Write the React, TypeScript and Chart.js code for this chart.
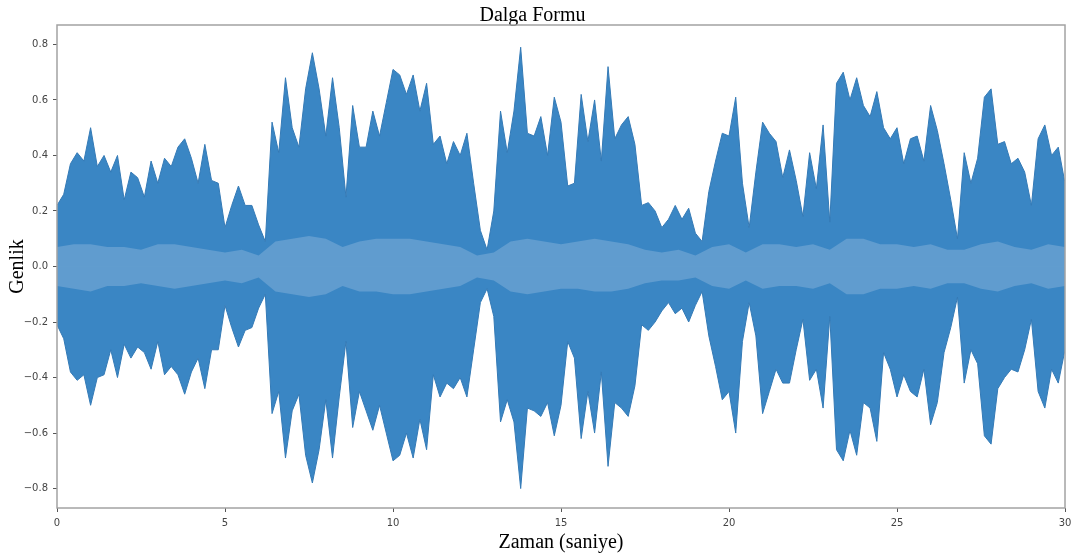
import React, { useEffect, useRef } from "react";
import { Chart, registerables } from "chart.js";

Chart.register(...registerables);

const TITLE = "Dalga Formu";
const X_LABEL = "Zaman (saniye)";
const Y_LABEL = "Genlik";

// sampling step (seconds) of the envelope readings
const TIME_STEP = 0.2;
const INNER_STEP = 0.5;

const xTicks = [0, 5, 10, 15, 20, 25, 30];
const yTicks = [-0.8, -0.6, -0.4, -0.2, 0, 0.2, 0.4, 0.6, 0.8];

// upper envelope of the waveform, t = 0 .. 30 s every 0.2 s
const upperEnvelope = [
  0.22, 0.26, 0.37, 0.41, 0.38, 0.5, 0.36, 0.4, 0.34, 0.4, 0.24, 0.34, 0.32, 0.25, 0.38, 0.3, 0.39, 0.36, 0.43, 0.46, 0.39, 0.3, 0.44, 0.31, 0.3, 0.14,
  0.22, 0.29, 0.22, 0.22, 0.15, 0.09, 0.52, 0.41, 0.68, 0.5, 0.43, 0.64, 0.77, 0.64, 0.47, 0.68, 0.5, 0.25, 0.58, 0.43, 0.43, 0.56, 0.47, 0.59, 0.71,
  0.69, 0.62, 0.69, 0.56, 0.66, 0.44, 0.47, 0.37, 0.45, 0.4, 0.48, 0.3, 0.13, 0.06, 0.2, 0.56, 0.41, 0.56, 0.79, 0.48, 0.47, 0.54, 0.4, 0.61, 0.52,
  0.29, 0.3, 0.62, 0.45, 0.6, 0.38, 0.72, 0.46, 0.51, 0.54, 0.44, 0.22, 0.23, 0.2, 0.14, 0.17, 0.22, 0.17, 0.21, 0.12, 0.09, 0.27, 0.38, 0.48, 0.47,
  0.61, 0.3, 0.14, 0.34, 0.52, 0.48, 0.45, 0.32, 0.42, 0.31, 0.18, 0.41, 0.28, 0.51, 0.16, 0.66, 0.7, 0.6, 0.68, 0.58, 0.54, 0.63, 0.5, 0.46, 0.5,
  0.37, 0.46, 0.47, 0.38, 0.58, 0.49, 0.37, 0.24, 0.1, 0.41, 0.3, 0.39, 0.61, 0.64, 0.44, 0.45, 0.37, 0.39, 0.34, 0.22, 0.46, 0.51, 0.4, 0.43, 0.3,
];

// lower envelope of the waveform, t = 0 .. 30 s every 0.2 s
const lowerEnvelope = [
  -0.21, -0.26, -0.38, -0.41, -0.39, -0.5, -0.4, -0.39, -0.3, -0.4, -0.28, -0.33, -0.29, -0.31, -0.37, -0.27, -0.39, -0.36, -0.39, -0.46, -0.38, -0.33, -0.44, -0.3, -0.3, -0.14,
  -0.22, -0.29, -0.23, -0.22, -0.15, -0.1, -0.53, -0.45, -0.69, -0.52, -0.46, -0.68, -0.78, -0.66, -0.48, -0.69, -0.47, -0.27, -0.58, -0.45, -0.52, -0.59, -0.5, -0.6, -0.7,
  -0.68, -0.6, -0.69, -0.55, -0.66, -0.39, -0.47, -0.42, -0.44, -0.4, -0.47, -0.3, -0.13, -0.08, -0.18, -0.56, -0.48, -0.56, -0.8, -0.51, -0.52, -0.54, -0.49, -0.61, -0.5,
  -0.27, -0.33, -0.62, -0.45, -0.6, -0.38, -0.72, -0.49, -0.51, -0.54, -0.43, -0.21, -0.23, -0.2, -0.16, -0.13, -0.17, -0.15, -0.2, -0.14, -0.09, -0.25, -0.36, -0.48, -0.45,
  -0.6, -0.27, -0.13, -0.25, -0.53, -0.45, -0.37, -0.42, -0.42, -0.3, -0.19, -0.41, -0.37, -0.51, -0.18, -0.66, -0.7, -0.59, -0.68, -0.49, -0.51, -0.63, -0.31, -0.37, -0.47,
  -0.39, -0.45, -0.47, -0.37, -0.57, -0.49, -0.31, -0.22, -0.11, -0.42, -0.3, -0.35, -0.61, -0.64, -0.44, -0.4, -0.37, -0.38, -0.3, -0.19, -0.45, -0.51, -0.37, -0.42, -0.3,
];

// lighter dense core around zero, t = 0 .. 30 s every 0.5 s
const innerUpper = [
  0.07, 0.08, 0.08, 0.07, 0.07, 0.06, 0.08, 0.08, 0.07, 0.06, 0.05, 0.06, 0.04, 0.09, 0.1, 0.11, 0.1, 0.07, 0.09, 0.1,
  0.1, 0.1, 0.09, 0.08, 0.07, 0.04, 0.05, 0.09, 0.1, 0.09, 0.08, 0.09, 0.1, 0.09, 0.08, 0.06, 0.05, 0.06, 0.04, 0.07,
  0.08, 0.05, 0.08, 0.08, 0.07, 0.08, 0.06, 0.1, 0.1, 0.08, 0.08, 0.07, 0.08, 0.06, 0.06, 0.08, 0.09, 0.07, 0.06, 0.08, 0.07,
];
const innerLower = [
  -0.07, -0.08, -0.09, -0.07, -0.07, -0.06, -0.07, -0.08, -0.07, -0.06, -0.05, -0.06, -0.04, -0.09, -0.1, -0.11, -0.1, -0.07, -0.09, -0.09,
  -0.1, -0.1, -0.09, -0.08, -0.07, -0.04, -0.05, -0.09, -0.1, -0.09, -0.08, -0.08, -0.09, -0.09, -0.08, -0.06, -0.05, -0.05, -0.04, -0.07,
  -0.08, -0.05, -0.08, -0.07, -0.07, -0.08, -0.06, -0.1, -0.1, -0.08, -0.08, -0.07, -0.08, -0.06, -0.06, -0.08, -0.09, -0.07, -0.06, -0.08, -0.07,
];

const OUTER_COLOR = "rgb(58,134,196)";
const OUTER_EDGE = "rgb(52,122,182)";
const INNER_COLOR = "rgb(96,156,207)";

const toPoints = (vals: number[], step: number) =>
  vals.map((y, i) => ({ x: Math.round(i * step * 100) / 100, y }));

const spinePlugin = {
  id: "spines",
  afterDraw(chart: any) {
    const { ctx, chartArea } = chart;
    const { left, top, right, bottom } = chartArea;
    ctx.save();
    ctx.strokeStyle = "#a3a3a3";
    ctx.lineWidth = 1.5;
    ctx.strokeRect(left, top, right - left, bottom - top);
    ctx.restore();
  },
};

export default function App() {
  const canvasRef = useRef<HTMLCanvasElement | null>(null);

  useEffect(() => {
    document.body.style.margin = "0";
    const canvas = canvasRef.current;
    if (!canvas) return;
    const chart = new Chart(canvas, {
      type: "line",
      data: {
        datasets: [
          {
            data: toPoints(innerUpper, INNER_STEP),
            fill: "origin",
            backgroundColor: INNER_COLOR,
            borderColor: INNER_COLOR,
            borderWidth: 0,
            pointRadius: 0,
            order: 0,
          },
          {
            data: toPoints(innerLower, INNER_STEP),
            fill: "origin",
            backgroundColor: INNER_COLOR,
            borderColor: INNER_COLOR,
            borderWidth: 0,
            pointRadius: 0,
            order: 0,
          },
          {
            data: toPoints(upperEnvelope, TIME_STEP),
            fill: "origin",
            backgroundColor: OUTER_COLOR,
            borderColor: OUTER_EDGE,
            borderWidth: 1,
            pointRadius: 0,
            order: 1,
          },
          {
            data: toPoints(lowerEnvelope, TIME_STEP),
            fill: "origin",
            backgroundColor: OUTER_COLOR,
            borderColor: OUTER_EDGE,
            borderWidth: 1,
            pointRadius: 0,
            order: 1,
          },
        ],
      },
      options: {
        responsive: false,
        animation: false,
        events: [],
        layout: { padding: { left: 0, right: 13, top: 0, bottom: 0 } },
        elements: { line: { tension: 0 } },
        plugins: {
          legend: { display: false },
          tooltip: { enabled: false },
          title: {
            display: true,
            text: TITLE,
            color: "#000",
            font: { family: "'Liberation Serif', 'Times New Roman', serif", size: 20, weight: "normal", lineHeight: 0.9 },
            padding: { top: 7, bottom: 0 },
          },
        },
        scales: {
          x: {
            type: "linear",
            min: 0,
            max: 30,
            afterBuildTicks: (scale: any) => {
              scale.ticks = xTicks.map((v) => ({ value: v }));
            },
            afterFit: (scale: any) => {
              scale.height = 48;
            },
            grid: { display: true, drawOnChartArea: false, drawTicks: true, tickLength: 4, color: "#555" },
            border: { display: false },
            ticks: {
              color: "#444",
              padding: 5,
              maxRotation: 0,
              font: { family: "'DejaVu Sans', sans-serif", size: 10 },
              callback: (v: any) => String(v),
            },
            title: {
              display: true,
              text: X_LABEL,
              color: "#000",
              font: { family: "'Liberation Serif', 'Times New Roman', serif", size: 20 },
              padding: { top: 0, bottom: 1 },
            },
          },
          y: {
            type: "linear",
            min: -0.87,
            max: 0.87,
            afterBuildTicks: (scale: any) => {
              scale.ticks = yTicks.map((v) => ({ value: v }));
            },
            afterFit: (scale: any) => {
              scale.width = 57;
            },
            grid: { display: true, drawOnChartArea: false, drawTicks: true, tickLength: 4, color: "#555" },
            border: { display: false },
            ticks: {
              color: "#444",
              padding: 5,
              font: { family: "'DejaVu Sans', sans-serif", size: 10 },
              callback: (v: any) => Number(v).toFixed(1).replace("-", "\u2212"),
            },
            title: {
              display: true,
              text: Y_LABEL,
              color: "#000",
              font: { family: "'Liberation Serif', 'Times New Roman', serif", size: 20 },
              padding: { top: 6, bottom: 0 },
            },
          },
        },
      } as any,
      plugins: [spinePlugin],
    });
    return () => chart.destroy();
  }, []);

  return (
    <div style={{ width: 1078, height: 556, background: "#fff" }}>
      <canvas ref={canvasRef} width={1078} height={556} />
    </div>
  );
}
